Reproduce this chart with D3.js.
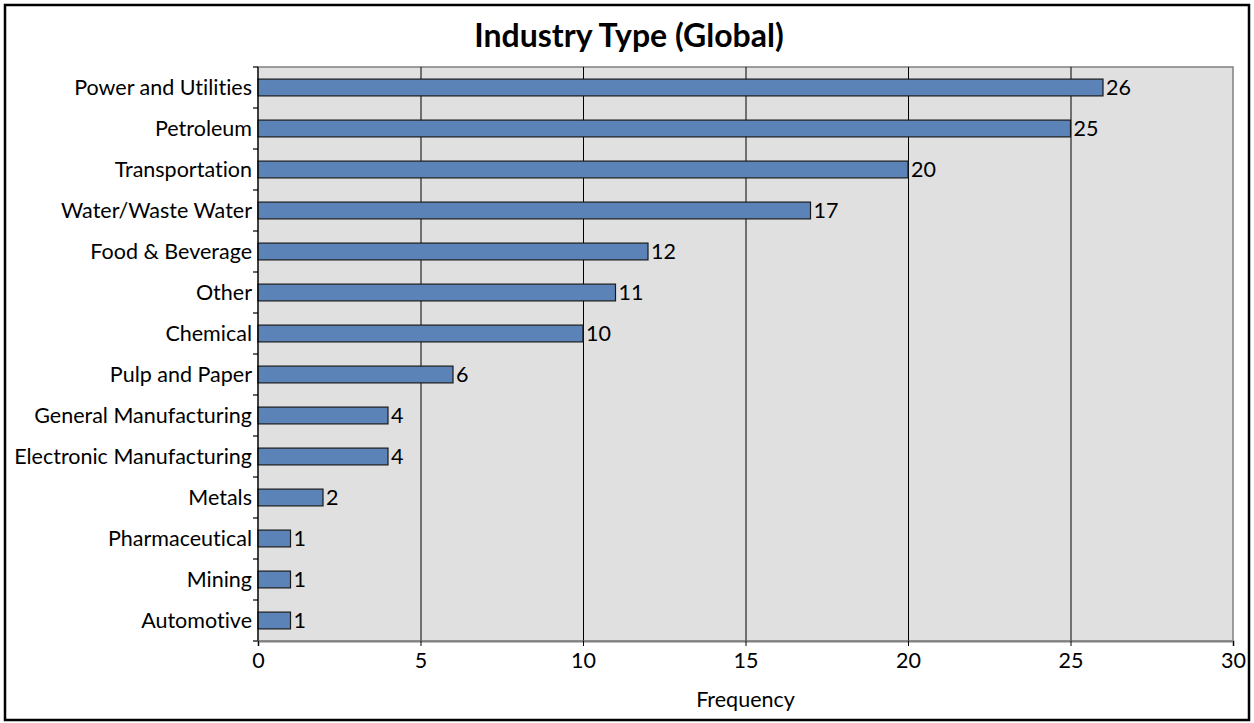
<!DOCTYPE html>
<html>
<head>
<meta charset="utf-8">
<script src="https://cdn.jsdelivr.net/npm/d3@7"></script>
<style>
  html, body { margin: 0; padding: 0; background: #fff; }
  svg { display: block; }
  text { font-family: Lato, "Open Sans", "Liberation Sans", sans-serif; fill: #000; font-variant-ligatures: none; font-feature-settings: "liga" 0, "clig" 0; }
</style>
</head>
<body>
<svg id="chart" width="1254" height="723"></svg>
<script>
// Industry categories, top to bottom
const categories = [
  "Power and Utilities", "Petroleum", "Transportation", "Water/Waste Water",
  "Food & Beverage", "Other", "Chemical", "Pulp and Paper",
  "General Manufacturing", "Electronic Manufacturing", "Metals",
  "Pharmaceutical", "Mining", "Automotive"
];
// Frequency per industry
const frequency = [26, 25, 20, 17, 12, 11, 10, 6, 4, 4, 2, 1, 1, 1];
// X axis tick values
const xTicks = [0, 5, 10, 15, 20, 25, 30];

const chartTitle = "Industry Type (Global)";
const xTitle = "Frequency";

const data = categories.map((c, i) => ({ name: c, value: frequency[i] }));

const svg = d3.select("#chart");
const W = 1254, H = 723;
const plot = { left: 258, right: 1233, top: 67, bottom: 641 };
const fs = 21.5;

// outer chart frame
svg.append("rect")
  .attr("x", 5).attr("y", 5).attr("width", W - 10).attr("height", H - 8)
  .attr("fill", "#fff").attr("stroke", "#000").attr("stroke-width", 2.5);

const x = d3.scaleLinear().domain([0, 30]).range([plot.left, plot.right]);
const y = d3.scaleBand().domain(categories).range([plot.top, plot.bottom]).paddingInner(0.59).paddingOuter(0.295);
const yBand = d3.scaleBand().domain(categories).range([plot.top, plot.bottom]);

// plot area background
svg.append("rect")
  .attr("x", plot.left).attr("y", plot.top)
  .attr("width", plot.right - plot.left).attr("height", plot.bottom - plot.top)
  .attr("fill", "#e0e0e0").attr("stroke", "#808080").attr("stroke-width", 1.5);

// vertical gridlines
svg.append("g").selectAll("line")
  .data(xTicks.filter(t => t > 0 && t < 30))
  .join("line")
  .attr("x1", d => x(d) + 0.5).attr("x2", d => x(d) + 0.5)
  .attr("y1", plot.top).attr("y2", plot.bottom)
  .attr("stroke", "#000").attr("stroke-width", 1);

// bars
svg.append("g").selectAll("rect")
  .data(data)
  .join("rect")
  .attr("x", x(0))
  .attr("y", d => y(d.name))
  .attr("width", d => x(d.value) - x(0))
  .attr("height", y.bandwidth())
  .attr("fill", "#5b83b7")
  .attr("stroke", "#1a1a1a")
  .attr("stroke-width", 1.2);

// value labels
svg.append("g").selectAll("text")
  .data(data)
  .join("text")
  .attr("x", d => x(d.value) + 3)
  .attr("y", d => y(d.name) + y.bandwidth() / 2)
  .attr("dy", "0.36em")
  .attr("font-size", fs)
  .text(d => d.value);

// y axis
const yAxis = svg.append("g").attr("transform", `translate(${plot.left},0)`);
yAxis.append("line")
  .attr("x1", 0).attr("x2", 0).attr("y1", plot.top).attr("y2", plot.bottom)
  .attr("stroke", "#000").attr("stroke-width", 1.2);
yAxis.selectAll("line.tick")
  .data(categories.concat(["__end"]))
  .join("line")
  .attr("class", "tick")
  .attr("x1", -5).attr("x2", 0)
  .attr("y1", (d, i) => i < categories.length ? yBand(d) : plot.bottom)
  .attr("y2", (d, i) => i < categories.length ? yBand(d) : plot.bottom)
  .attr("stroke", "#000").attr("stroke-width", 1.2);
yAxis.selectAll("text")
  .data(categories)
  .join("text")
  .attr("x", -6)
  .attr("y", d => yBand(d) + yBand.bandwidth() / 2)
  .attr("dy", "0.36em")
  .attr("text-anchor", "end")
  .attr("font-size", fs)
  .text(d => d);

// x axis
const xAxis = d3.axisBottom(x).tickValues(xTicks).tickSize(5).tickPadding(7);
const gx = svg.append("g").attr("transform", `translate(0,${plot.bottom})`).call(xAxis);
gx.select(".domain").attr("stroke", "#808080").attr("stroke-width", 2);
gx.selectAll(".tick line").attr("stroke", "#000");
gx.selectAll(".tick text")
  .attr("font-size", fs)
  .attr("font-family", "Lato, 'Open Sans', sans-serif")
  .attr("fill", "#000");

// titles
svg.append("text")
  .attr("x", 629).attr("y", 47)
  .attr("text-anchor", "middle")
  .attr("font-size", 32)
  .attr("font-weight", "bold")
  .text(chartTitle);

svg.append("text")
  .attr("x", (plot.left + plot.right) / 2).attr("y", 707)
  .attr("text-anchor", "middle")
  .attr("font-size", fs)
  .text(xTitle);
</script>
</body>
</html>
